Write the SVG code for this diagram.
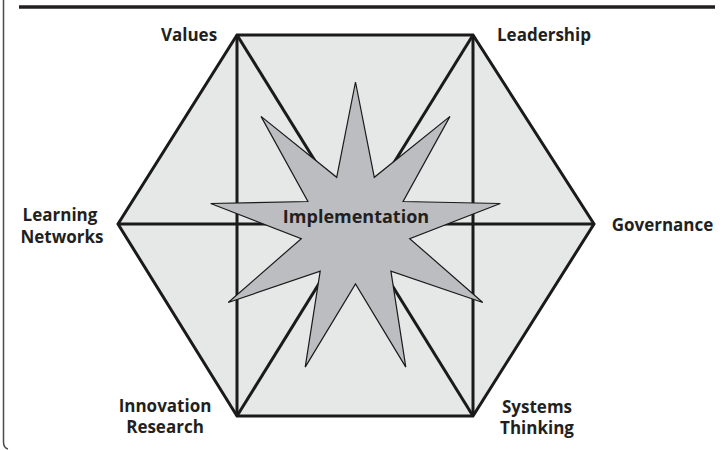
<svg xmlns="http://www.w3.org/2000/svg" width="726" height="450" viewBox="0 0 726 450">
  <style>
    .frame { fill: none; stroke: #4a4a4a; stroke-width: 1.5; }
    .rule { stroke: #231f20; stroke-width: 3.5; }
    .hex { fill: #e6e7e7; stroke: #1a1a1a; stroke-width: 3; stroke-linejoin: miter; }
    .edge { stroke: #1a1a1a; stroke-width: 3; fill: none; }
    .star { fill: #bcbdc0; stroke: #1a1a1a; stroke-width: 1.2; stroke-linejoin: miter; }
    .label { font-family: "Open Sans", "Liberation Sans", sans-serif; font-weight: 700; font-size: 17px; fill: #231f20; text-anchor: middle; }
    .center-label { font-size: 18px; }
  </style>

  <!-- page frame: left edge with rounded foot, and top rule -->
  <path class="frame" d="M3.5,0 V442 Q3.5,448 8,449"/>
  <line class="rule" x1="19" y1="7" x2="715" y2="7"/>

  <!-- hexagon body -->
  <g id="hexagon">
    <polygon class="hex" points="237,35 473,35 594,224 473,416 237,416 118,224"/>
  </g>

  <!-- internal connectors between the six vertices -->
  <g id="connectors">
    <line class="edge" x1="237" y1="35" x2="237" y2="416"/>
    <line class="edge" x1="473" y1="35" x2="473" y2="416"/>
    <line class="edge" x1="118" y1="224" x2="594" y2="224"/>
    <line class="edge" x1="237" y1="35" x2="473" y2="416"/>
    <line class="edge" x1="473" y1="35" x2="237" y2="416"/>
  </g>

  <!-- central nine-point star -->
  <g id="implementation">
    <polygon class="star" points="355.5,82 374.3,177.3 450,116.4 403.1,201.5 500.3,203.5 409.7,238.6 482.8,302.5 390.9,271.1 405.8,367.1 355.5,284 305.2,367.1 320.2,271.1 228.2,302.5 301.3,238.6 210.7,203.5 307.9,201.5 261,116.4 336.7,177.3"/>
    <text class="label center-label" x="356" y="223">Implementation</text>
  </g>

  <g id="values">
    <text class="label" x="189" y="41">Values</text>
  </g>
  <g id="leadership">
    <text class="label" x="544" y="41">Leadership</text>
  </g>
  <g id="learning-networks">
    <text class="label" x="60" y="221">Learning</text>
    <text class="label" x="62" y="243">Networks</text>
  </g>
  <g id="governance">
    <text class="label" x="662.5" y="231">Governance</text>
  </g>
  <g id="innovation-research">
    <text class="label" x="165" y="412">Innovation</text>
    <text class="label" x="165" y="433">Research</text>
  </g>
  <g id="systems-thinking">
    <text class="label" x="537" y="413">Systems</text>
    <text class="label" x="537" y="434">Thinking</text>
  </g>
</svg>
